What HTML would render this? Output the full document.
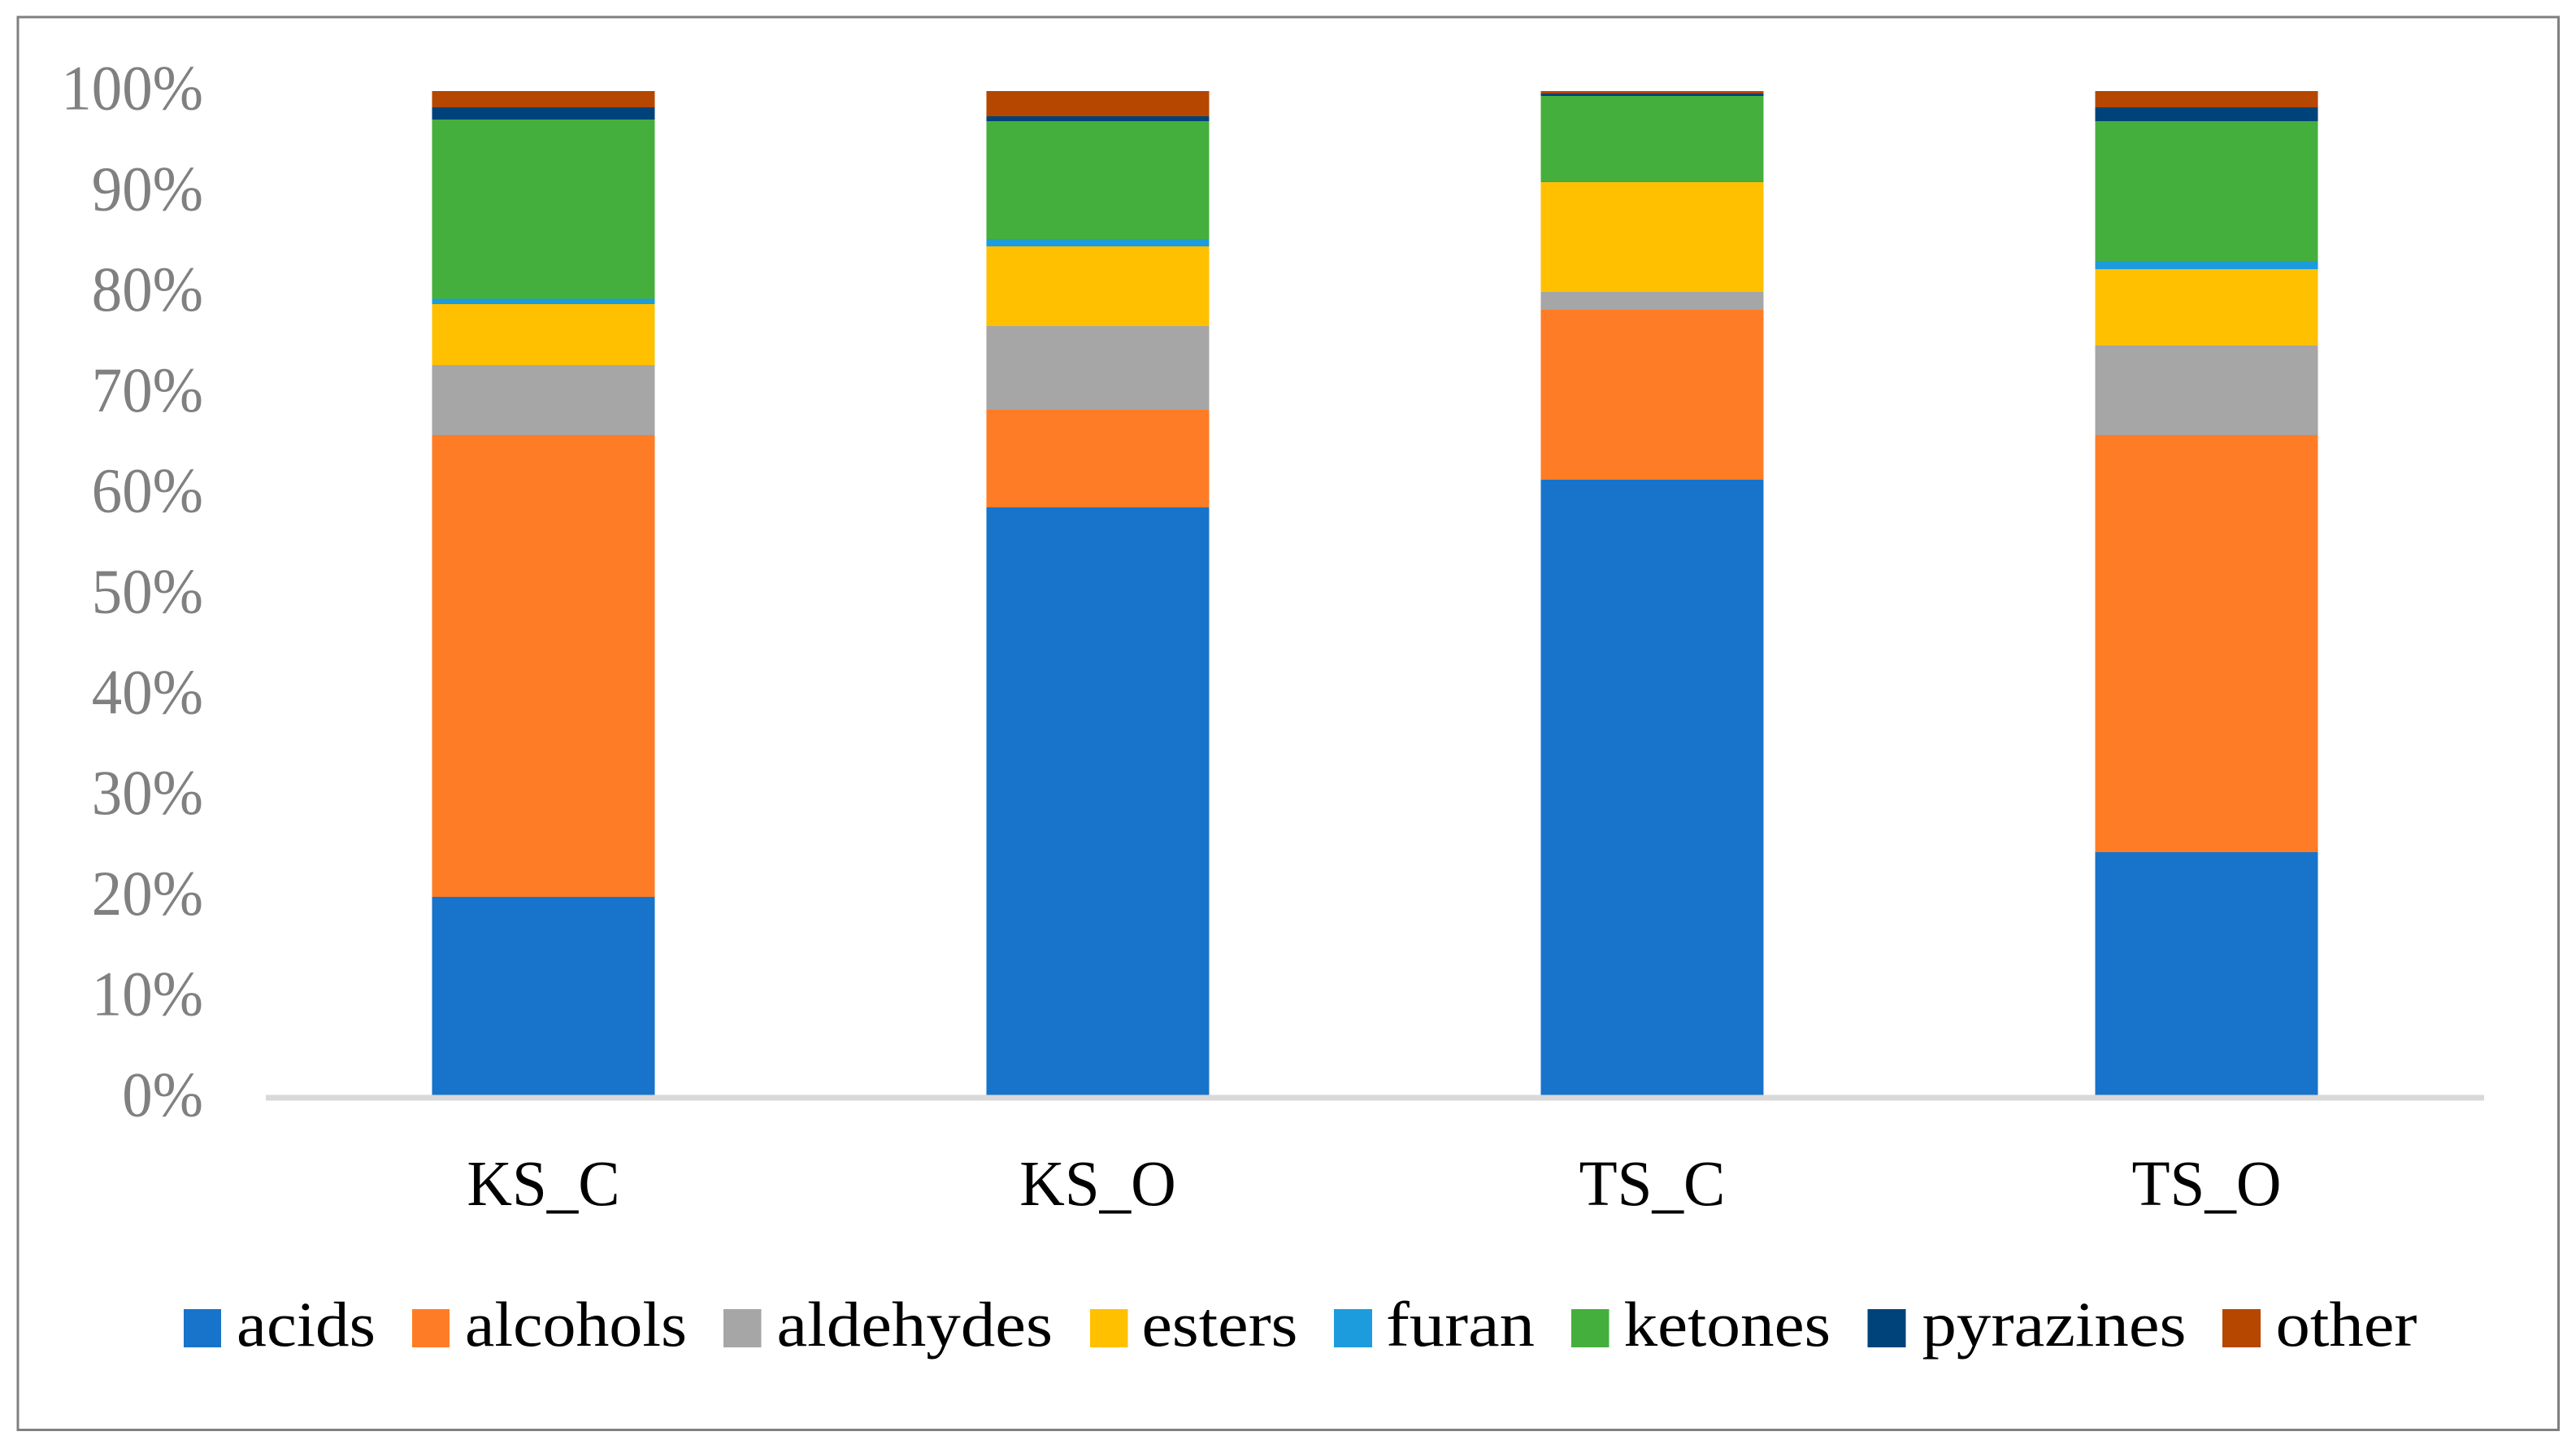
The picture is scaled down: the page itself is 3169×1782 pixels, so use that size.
<!DOCTYPE html>
<html lang="en">
<head>
<meta charset="utf-8">
<title>Stacked composition chart</title>
<style>
  html, body { margin: 0; padding: 0; background: #ffffff; }
  body { width: 3169px; height: 1782px; overflow: hidden; }
  svg { display: block; font-family: "Liberation Serif", serif; }
  .s0 { fill: #1873CA; }
  .s1 { fill: #FF7C26; }
  .s2 { fill: #A6A6A6; }
  .s3 { fill: #FFC000; }
  .s4 { fill: #1C9CDC; }
  .s5 { fill: #45AF3D; }
  .s6 { fill: #00437A; }
  .s7 { fill: #B54700; }
  .tick-label { fill: #808080; font-size: 78px; }
  .cat-label { fill: #000000; font-size: 79px; }
  .legend-text { fill: #000000; font-size: 78px; }
  rect.seg { shape-rendering: crispEdges; }
</style>
</head>
<body>
<svg id="chart" xmlns="http://www.w3.org/2000/svg" width="3169" height="1782" viewBox="0 0 3169 1782">
  <rect x="0" y="0" width="3169" height="1782" fill="#ffffff"/>
  <rect x="22" y="21" width="3125.5" height="1737.5" fill="none" stroke="#808080" stroke-width="3"/>
  <g id="bars"></g>
  <rect x="327" y="1346.5" width="2729" height="7" fill="#D9D9D9" shape-rendering="crispEdges"/>
  <g id="y-ticks"></g>
  <g id="x-ticks"></g>
  <g>
    <g>
      <rect class="s0" x="226" y="1610" width="46" height="47"/>
      <text class="legend-text" x="291" y="1655" textLength="171" lengthAdjust="spacingAndGlyphs">acids</text>
    </g>
    <g>
      <rect class="s1" x="507" y="1610" width="46" height="47"/>
      <text class="legend-text" x="572" y="1655" textLength="273" lengthAdjust="spacingAndGlyphs">alcohols</text>
    </g>
    <g>
      <rect class="s2" x="890" y="1610" width="46.5" height="47"/>
      <text class="legend-text" x="955.5" y="1655" textLength="339.5" lengthAdjust="spacingAndGlyphs">aldehydes</text>
    </g>
    <g>
      <rect class="s3" x="1341" y="1610" width="46.5" height="47"/>
      <text class="legend-text" x="1404.5" y="1655" textLength="192" lengthAdjust="spacingAndGlyphs">esters</text>
    </g>
    <g>
      <rect class="s4" x="1641" y="1610" width="47" height="47"/>
      <text class="legend-text" x="1705" y="1655" textLength="183" lengthAdjust="spacingAndGlyphs">furan</text>
    </g>
    <g>
      <rect class="s5" x="1933" y="1610" width="46.5" height="47"/>
      <text class="legend-text" x="1997.5" y="1655" textLength="254.5" lengthAdjust="spacingAndGlyphs">ketones</text>
    </g>
    <g>
      <rect class="s6" x="2297.5" y="1610" width="47" height="47"/>
      <text class="legend-text" x="2364.5" y="1655" textLength="325" lengthAdjust="spacingAndGlyphs">pyrazines</text>
    </g>
    <g>
      <rect class="s7" x="2734" y="1610" width="47" height="47"/>
      <text class="legend-text" x="2799.5" y="1655" textLength="174" lengthAdjust="spacingAndGlyphs">other</text>
    </g>
  </g>
</svg>
<script>
const categories = ['KS_C', 'KS_O', 'TS_C', 'TS_O'];
const tickValues = [0, 10, 20, 30, 40, 50, 60, 70, 80, 90, 100];
const seriesNames = ['acids', 'alcohols', 'aldehydes', 'esters', 'furan', 'ketones', 'pyrazines', 'other'];
const acids = [19.95, 58.64, 61.39, 24.39];
const alcohols = [45.88, 9.70, 16.88, 41.44];
const aldehydes = [6.95, 8.32, 1.78, 8.89];
const esters = [6.06, 7.91, 10.90, 7.59];
const furan = [0.51, 0.73, 0.06, 0.81];
const ketones = [17.82, 11.71, 8.51, 13.89];
const pyrazines = [1.21, 0.49, 0.24, 1.37];
const other = [1.62, 2.50, 0.24, 1.62];

const allSeries = [acids, alcohols, aldehydes, esters, furan, ketones, pyrazines, other];
const SVG_NS = 'http://www.w3.org/2000/svg';

const plotLeft = 327.5;
const plotRight = 3055.5;
const plotZeroY = 1350;
const plotTopY = 112;
const barWidth = 274;

function xCenter(i) {
  return plotLeft + (plotRight - plotLeft) * (i + 0.5) / categories.length;
}
function yScale(v) {
  return plotZeroY - (plotZeroY - plotTopY) * v / 100;
}

const barsGroup = document.getElementById('bars');
categories.forEach(function (cat, c) {
  const group = document.createElementNS(SVG_NS, 'g');
  
  
  let cumulative = 0;
  allSeries.forEach(function (series, s) {
    const y0 = yScale(cumulative);
    cumulative += series[c];
    const y1 = yScale(cumulative);
    const seg = document.createElementNS(SVG_NS, 'rect');
    seg.setAttribute('class', 'seg s' + s);
    seg.setAttribute('x', xCenter(c) - barWidth / 2);
    seg.setAttribute('y', y1);
    seg.setAttribute('width', barWidth);
    seg.setAttribute('height', y0 - y1);
    
    
    group.appendChild(seg);
  });
  barsGroup.appendChild(group);

  const label = document.createElementNS(SVG_NS, 'text');
  label.setAttribute('class', 'cat-label');
  label.setAttribute('text-anchor', 'middle');
  label.setAttribute('transform', 'translate(' + xCenter(c) + ',1482) scale(0.975,1)');
  
  
  label.textContent = cat;
  document.getElementById('x-ticks').appendChild(label);
});

tickValues.forEach(function (v) {
  const t = document.createElementNS(SVG_NS, 'text');
  t.setAttribute('class', 'tick-label');
  t.setAttribute('text-anchor', 'end');
  t.setAttribute('transform', 'translate(250,' + (yScale(v) + 22.5) + ') scale(0.96,1)');
  
  
  t.textContent = v + '%';
  document.getElementById('y-ticks').appendChild(t);
});
</script>
</body>
</html>
